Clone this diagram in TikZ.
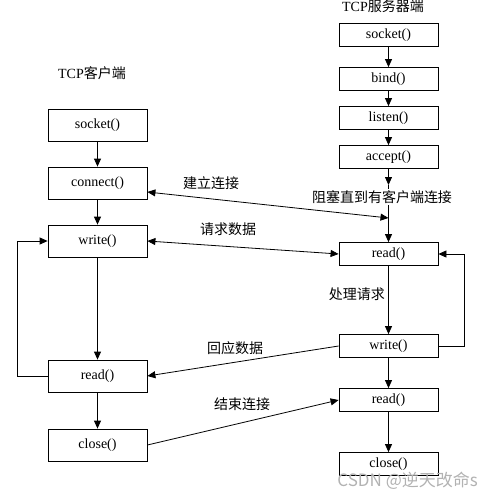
\documentclass[tikz,border=0pt]{standalone}
\usepackage{fontspec}
\setmainfont{Liberation Serif}
\newfontfamily\cjk{Noto Sans CJK SC}
\usetikzlibrary{arrows.meta}

\begin{document}
\begin{tikzpicture}[x=1pt, y=-1pt, font=\fontsize{14}{16}\selectfont]
	\tikzstyle{callBox} = [draw, line width=0.8pt, minimum width=99pt, inner sep=0pt]
	\tikzstyle{clientBox} = [callBox, minimum height=32pt]
	\tikzstyle{serverBox} = [callBox, minimum height=23pt]
	\tikzstyle{arr} = [line width=0.8pt, -{Triangle[length=8pt, width=7pt]}]
	\tikzstyle{dblArr} = [arr, {Triangle[length=8pt, width=7pt]}-{Triangle[length=8pt, width=7pt]}]
	\tikzstyle{msgLabel} = [font=\fontsize{14}{16}\selectfont\cjk, inner sep=1pt]
	\useasboundingbox (0,0) rectangle (494,499);
	% titles
	\node (ctitle) at (92,73) {TCP{\cjk 客户端}};
	\node (stitle) at (383,6) {TCP{\cjk 服务器端}};
	% client side
	\node[clientBox] (csocket) at (97.5,125) {socket()};
	\node[clientBox] (cconnect) at (97.5,183) {connect()};
	\node[clientBox] (cwrite) at (97.5,241) {write()};
	\node[clientBox] (cread) at (97.5,376) {read()};
	\node[clientBox] (cclose) at (97.5,445) {close()};
	% server side
	\node[serverBox] (ssocket) at (388.5,35) {socket()};
	\node[serverBox] (sbind) at (388.5,79) {bind()};
	\node[serverBox] (slisten) at (388.5,118) {listen()};
	\node[serverBox] (saccept) at (388.5,157) {accept()};
	\node[serverBox] (sread) at (388.5,254) {read()};
	\node[serverBox] (swrite) at (388.5,346) {write()};
	\node[serverBox] (sread2) at (388.5,400) {read()};
	\node[serverBox] (sclose) at (388.5,464) {close()};
	\coordinate (sblock) at (388.5,185);
	\coordinate (sconn) at (388.5,218);
	% client flow
	\draw[arr] (csocket) -- (cconnect);
	\draw[arr] (cconnect) -- (cwrite);
	\draw[arr] (cwrite) -- (cread);
	\draw[arr] (cread) -- (cclose);
	\draw[arr] (cread.west) -- ++(-30,0) |- (cwrite.west);
	% server flow
	\draw[arr] (ssocket) -- (sbind);
	\draw[arr] (sbind) -- (slisten);
	\draw[arr] (slisten) -- (saccept);
	\draw[arr] (saccept) -- (sblock);
	\draw[arr] (sblock) -- (sread);
	\draw[arr] (sread) -- (swrite);
	\draw[arr] (swrite) -- (sread2);
	\draw[arr] (sread2) -- (sclose);
	\draw[arr] (swrite.east) -- ++(26,0) |- (sread.east);
	% messages
	\draw[dblArr] ([yshift=-9pt]cconnect.east) -- (sconn);
	\draw[dblArr] (cwrite.east) -- (sread.west);
	\draw[arr] (swrite.west) -- (cread.east);
	\draw[arr] (cclose.east) -- (sread2.west);
	\node[msgLabel] (lconnect) at (211,183) {建立连接};
	\node[msgLabel, fill=white] (lblock) at (382,197) {阻塞直到有客户端连接};
	\node[msgLabel] (lrequest) at (228,229) {请求数据};
	\node[msgLabel, anchor=east] (lprocess) at (386,294) {处理请求};
	\node[msgLabel] (lreply) at (235,348) {回应数据};
	\node[msgLabel] (lclose) at (242,404) {结束连接};
	% watermark
	\node[font=\fontsize{17}{19}\selectfont\cjk, text=black!30, anchor=east, inner sep=0pt] (mark) at (478,481) {CSDN @逆天改命s};
\end{tikzpicture}
\end{document}
